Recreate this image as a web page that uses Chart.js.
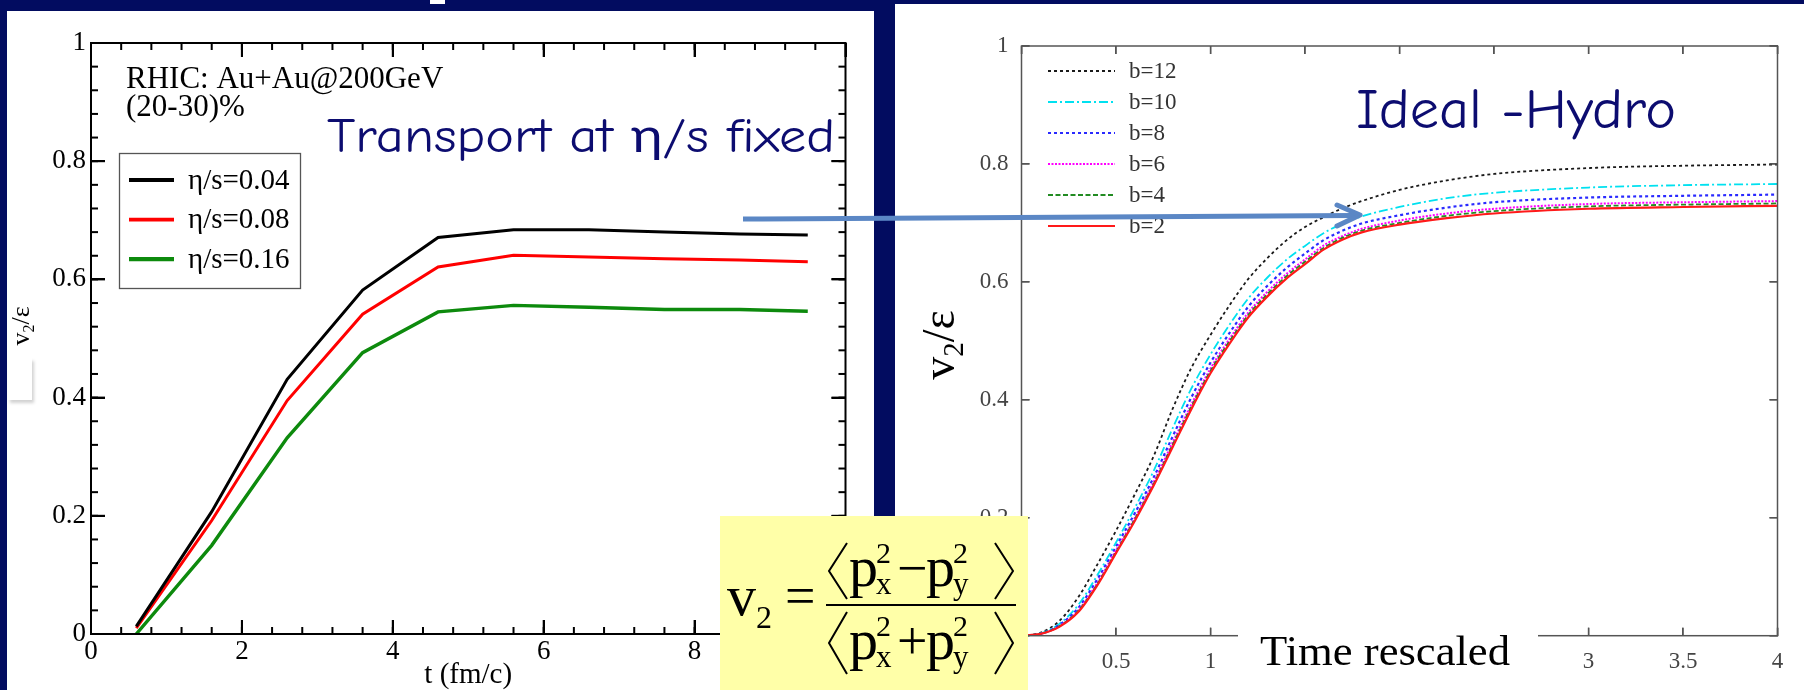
<!DOCTYPE html>
<html>
<head>
<meta charset="utf-8">
<script src="https://cdn.jsdelivr.net/npm/chart.js@4.4.0/dist/chart.umd.min.js"></script>
<style>
  html, body { margin: 0; padding: 0; background: #020c60; }
  body { width: 1804px; height: 690px; position: relative; overflow: hidden; }
  .panel { position: absolute; background: #fff; }
  #leftPanel { left: 7px; top: 11px; width: 867px; height: 679px; }
  #rightPanel { left: 895px; top: 4px; width: 909px; height: 686px; }
  #notch { position: absolute; left: 430px; top: 0; width: 15px; height: 4px; background: #fff; }
  #patch { position: absolute; left: 8px; top: 358px; width: 24px; height: 42px; background: #fff;
           box-shadow: 2px 3px 3px rgba(0,0,0,0.18); }
  canvas { position: absolute; top: 0; }
  #transport { left: 0; }
  #hydro { left: 895px; }
  #overlay { position: absolute; left: 0; top: 0; pointer-events: none; }
</style>
</head>
<body>
<div class="panel" id="leftPanel"></div>
<div class="panel" id="rightPanel"></div>
<div id="notch"></div>
<div id="patch"></div>
<canvas id="transport" width="875" height="690"></canvas>
<canvas id="hydro" width="909" height="690"></canvas>

<svg id="overlay" width="1804" height="690">
  <!-- formula box -->
  <rect x="720" y="516" width="308" height="174" fill="#ffffa8"/>
  <g font-family="'Liberation Serif', serif" fill="#000">
    <text x="727" y="615" font-size="58">v</text>
    <text x="756" y="628" font-size="32">2</text>
    <text x="785" y="614" font-size="54">=</text>
    <line x1="826" y1="605" x2="1016" y2="605" stroke="#000" stroke-width="2"/>
    <polyline points="847,543 829,571 847,599" fill="none" stroke="#000" stroke-width="2"/>
    <text x="849" y="586" font-size="58">p</text>
    <text x="876" y="563" font-size="30">2</text>
    <text x="876" y="594" font-size="31">x</text>
    <text x="897" y="586" font-size="54">−</text>
    <text x="926" y="586" font-size="58">p</text>
    <text x="953" y="563" font-size="30">2</text>
    <text x="953" y="594" font-size="31">y</text>
    <polyline points="995,543 1013,571 995,599" fill="none" stroke="#000" stroke-width="2"/>
    <polyline points="847,612 829,643 847,674" fill="none" stroke="#000" stroke-width="2"/>
    <text x="849" y="659" font-size="58">p</text>
    <text x="876" y="636" font-size="30">2</text>
    <text x="876" y="667" font-size="31">x</text>
    <text x="897" y="659" font-size="54">+</text>
    <text x="926" y="659" font-size="58">p</text>
    <text x="953" y="636" font-size="30">2</text>
    <text x="953" y="667" font-size="31">y</text>
    <polyline points="995,612 1013,643 995,674" fill="none" stroke="#000" stroke-width="2"/>
  </g>
  <!-- x title of the hydro plot sits on its own white box -->
  <rect x="1238" y="622" width="300" height="68" fill="#fff"/>
  <text x="1260" y="665" font-family="'Liberation Serif', serif" font-size="42"
        textLength="250" lengthAdjust="spacingAndGlyphs" fill="#000">Time rescaled</text>
  <!-- slide titles -->
  <g font-family="'Comic Sans MS', 'Comic Neue', Lato, sans-serif" fill="#0c0c70">
    <text x="327" y="152" font-size="48" textLength="508" lengthAdjust="spacingAndGlyphs">Transport at η/s fixed</text>
    <text x="1356" y="128" font-size="56" textLength="320" lengthAdjust="spacingAndGlyphs">Ideal -Hydro</text>
  </g>
  <!-- arrow from one plot to the other -->
  <line x1="743" y1="219" x2="1355" y2="215.5" stroke="#5b87c5" stroke-width="5"/>
  <polyline points="1337,205 1360,215 1337,226" fill="none" stroke="#5b87c5" stroke-width="5"
            stroke-linecap="round" stroke-linejoin="round"/>
</svg>

<script>
// ---- left plot: transport, v2/eps vs t (fm/c) ----
const tTransport = [0.6, 1.6, 2.6, 3.6, 4.6, 5.6, 6.6, 7.6, 8.6, 9.5];
const eta004 = [0.013, 0.207, 0.431, 0.582, 0.671, 0.684, 0.684, 0.680, 0.677, 0.675];
const eta008 = [0.010, 0.192, 0.395, 0.541, 0.621, 0.641, 0.638, 0.635, 0.633, 0.630];
const eta016 = [0.000, 0.150, 0.332, 0.476, 0.545, 0.556, 0.553, 0.549, 0.549, 0.546];
const etaLabels = ['η/s=0.04', 'η/s=0.08', 'η/s=0.16'];
const leftXTicks = [0, 2, 4, 6, 8, 10];
const leftYTicks = [0, 0.2, 0.4, 0.6, 0.8, 1];
const leftYLabels = ['0', '0.2', '0.4', '0.6', '0.8', '1'];

// ---- right plot: ideal hydro, v2/eps vs rescaled time ----
const tRescaled = [0, 0.1, 0.2, 0.3, 0.4, 0.5, 0.6, 0.7, 0.8, 0.9, 1.0, 1.1, 1.2, 1.3,
                   1.4, 1.5, 1.6, 1.7, 1.8, 2.0, 2.25, 2.5, 3.0, 3.5, 4.0];
const b12 = [0, 0.005, 0.025, 0.065, 0.12, 0.178, 0.24, 0.305, 0.385, 0.455, 0.51, 0.56, 0.605,
             0.64, 0.67, 0.693, 0.71, 0.725, 0.737, 0.756, 0.772, 0.783, 0.793, 0.797, 0.799];
const b10 = [0, 0.004, 0.02, 0.052, 0.102, 0.158, 0.217, 0.28, 0.352, 0.42, 0.477, 0.527, 0.572,
             0.607, 0.637, 0.661, 0.683, 0.699, 0.711, 0.727, 0.742, 0.751, 0.76, 0.764, 0.766];
const b8 = [0, 0.003, 0.018, 0.047, 0.095, 0.151, 0.208, 0.269, 0.338, 0.405, 0.463, 0.513, 0.558,
            0.593, 0.623, 0.648, 0.671, 0.687, 0.699, 0.713, 0.726, 0.735, 0.743, 0.746, 0.748];
const b6 = [0, 0.003, 0.016, 0.043, 0.089, 0.145, 0.2, 0.261, 0.328, 0.393, 0.453, 0.503, 0.548,
            0.583, 0.613, 0.638, 0.662, 0.678, 0.69, 0.704, 0.716, 0.724, 0.732, 0.735, 0.737];
const b4 = [0, 0.003, 0.016, 0.042, 0.087, 0.142, 0.198, 0.258, 0.324, 0.389, 0.449, 0.499, 0.544,
            0.579, 0.609, 0.634, 0.658, 0.675, 0.687, 0.7, 0.712, 0.72, 0.728, 0.731, 0.733];
const b2 = [0, 0.003, 0.015, 0.04, 0.085, 0.14, 0.195, 0.255, 0.32, 0.385, 0.445, 0.495, 0.54,
            0.575, 0.605, 0.63, 0.655, 0.672, 0.684, 0.697, 0.708, 0.716, 0.724, 0.727, 0.729];
const bLabels = ['b=12', 'b=10', 'b=8', 'b=6', 'b=4', 'b=2'];
const rightXTicks = [0, 0.5, 1, 1.5, 2, 2.5, 3, 3.5, 4];
const rightXLabels = ['0', '0.5', '1', '1.5', '2', '2.5', '3', '3.5', '4'];
const rightYTicks = [0, 0.2, 0.4, 0.6, 0.8, 1];
const rightYLabels = ['0', '0.2', '0.4', '0.6', '0.8', '1'];

const SERIF = '"Liberation Serif", "Times New Roman", serif';

function pairs(xs, ys) {
  return xs.map((x, i) => ({ x: x, y: ys[i] }));
}

// tick marks pointing into the plot, drawn by the axes themselves (negative tick length)
function inwardGrid(color, width, len) {
  return { display: true, drawOnChartArea: false, drawTicks: true, tickLength: -len,
           color: color, tickColor: color, lineWidth: width, tickWidth: width };
}

// extra axis on the opposite side that only carries the mirrored tick marks
function mirrorAxis(position, min, max, values, grid) {
  const horizontal = position === 'top';
  return {
    type: 'linear', position: position, min: min, max: max,
    grid: grid, border: { display: false },
    ticks: { display: false },
    afterBuildTicks: s => { s.ticks = values.map(v => ({ value: v })); },
    afterFit: s => { if (horizontal) s.height = 0; else s.width = 0; }
  };
}

// frame round the plot plus minor ticks
function drawFrame(chart, o) {
  const ctx = chart.ctx;
  const a = chart.chartArea;
  const sx = chart.scales.x;
  const sy = chart.scales.y;
  const xs = [], ys = [];
  sx.ticks.forEach(t => xs.push([t.value, o.major]));
  sy.ticks.forEach(t => ys.push([t.value, o.major]));
  if (o.xMinor) {
    for (let i = 1; i * o.xMinor < sx.max - sx.min - 1e-6; i++) xs.push([sx.min + i * o.xMinor, o.minor]);
  }
  if (o.yMinor) {
    for (let i = 1; i * o.yMinor < sy.max - sy.min - 1e-6; i++) ys.push([sy.min + i * o.yMinor, o.minor]);
  }
  const w = o.tickWidth;
  ctx.save();
  ctx.strokeStyle = o.color;
  ctx.fillStyle = o.color;
  ctx.lineWidth = o.frameWidth;
  ctx.strokeRect(a.left, a.top, a.right - a.left, a.bottom - a.top);
  xs.forEach(([v, len]) => {
    const px = sx.getPixelForValue(v);
    ctx.fillRect(px - w / 2, a.bottom - len, w, len);
    ctx.fillRect(px - w / 2, a.top, w, len);
  });
  ys.forEach(([v, len]) => {
    const py = sy.getPixelForValue(v);
    ctx.fillRect(a.left, py - w / 2, len, w);
    ctx.fillRect(a.right - len, py - w / 2, len, w);
  });
  ctx.restore();
}

// "v2/eps" written sideways, with a real subscript
function drawV2Eps(ctx, baseX, midY, size, color) {
  ctx.save();
  ctx.translate(baseX, midY);
  ctx.rotate(-Math.PI / 2);
  ctx.fillStyle = color;
  ctx.textBaseline = 'alphabetic';
  ctx.font = size + 'px ' + SERIF;
  const w1 = ctx.measureText('v').width;
  const w3 = ctx.measureText('/ε').width;
  ctx.font = Math.round(size * 0.62) + 'px ' + SERIF;
  const w2 = ctx.measureText('2').width;
  const x0 = -(w1 + w2 + w3) / 2;
  ctx.font = size + 'px ' + SERIF;
  ctx.fillText('v', x0, 0);
  ctx.font = Math.round(size * 0.62) + 'px ' + SERIF;
  ctx.fillText('2', x0 + w1, size * 0.2);
  ctx.font = size + 'px ' + SERIF;
  ctx.fillText('/ε', x0 + w1 + w2, 0);
  ctx.restore();
}

const transportDecor = {
  id: 'transportDecor',
  afterDraw(chart) {
    const ctx = chart.ctx;
    ctx.save();
    ctx.fillStyle = '#000';
    ctx.font = '31px ' + SERIF;
    ctx.textBaseline = 'alphabetic';
    ctx.fillText('RHIC: Au+Au@200GeV', 126, 88);
    ctx.fillText('(20-30)%', 126, 116);
    // legend box
    ctx.strokeStyle = '#555';
    ctx.lineWidth = 1.3;
    ctx.strokeRect(119.5, 153.5, 181, 135);
    chart.data.datasets.forEach((ds, i) => {
      const yy = 180 + i * 39.6;
      ctx.strokeStyle = ds.borderColor;
      ctx.lineWidth = ds.borderWidth + 0.8;
      ctx.beginPath();
      ctx.moveTo(129, yy);
      ctx.lineTo(174, yy);
      ctx.stroke();
      ctx.fillStyle = '#000';
      ctx.font = '29px ' + SERIF;
      ctx.textBaseline = 'middle';
      ctx.fillText(ds.label, 188, yy + 1);
    });
    ctx.restore();
    drawV2Eps(ctx, 29, 326, 26, '#000');
    drawFrame(chart, { color: '#000', tickWidth: 2, frameWidth: 2, major: 14, minor: 7, xMinor: 0.4, yMinor: 0.04 });
  }
};

const hydroDecor = {
  id: 'hydroDecor',
  afterDraw(chart) {
    const ctx = chart.ctx;
    ctx.save();
    chart.data.datasets.forEach((ds, i) => {
      const yy = 71 + i * 31;
      ctx.strokeStyle = ds.borderColor;
      ctx.lineWidth = ds.borderWidth;
      ctx.setLineDash(ds.borderDash);
      ctx.beginPath();
      ctx.moveTo(153, yy);
      ctx.lineTo(220, yy);
      ctx.stroke();
      ctx.setLineDash([]);
      ctx.fillStyle = '#333';
      ctx.font = '23px ' + SERIF;
      ctx.textBaseline = 'middle';
      ctx.fillText(ds.label, 234, yy + 1);
    });
    ctx.restore();
    drawV2Eps(ctx, 59, 345, 46, '#000');
    drawFrame(chart, { color: '#555', tickWidth: 1.4, frameWidth: 1.5, major: 8, minor: 0 });
  }
};

const leftGrid = inwardGrid('#000', 2, 14);
const rightGrid = inwardGrid('#555', 1.4, 8);

// left chart
new Chart(document.getElementById('transport'), {
  type: 'line',
  data: {
    datasets: [
      { label: etaLabels[0], data: pairs(tTransport, eta004), borderColor: '#000000', borderWidth: 3 },
      { label: etaLabels[1], data: pairs(tTransport, eta008), borderColor: '#ff0000', borderWidth: 3 },
      { label: etaLabels[2], data: pairs(tTransport, eta016), borderColor: '#0d8a0d', borderWidth: 3.4 }
    ]
  },
  options: {
    responsive: false,
    animation: false,
    layout: { padding: { left: 0, top: 43, right: 16, bottom: 0 } },
    elements: { point: { radius: 0 }, line: { tension: 0, fill: false } },
    plugins: { legend: { display: false }, tooltip: { enabled: false } },
    scales: {
      x: {
        type: 'linear', min: 0, max: 10,
        grid: leftGrid, border: { display: false },
        afterBuildTicks: s => { s.ticks = leftXTicks.map(v => ({ value: v })); },
        afterFit: s => { s.height = 56; },
        ticks: { font: { family: SERIF, size: 27 }, color: '#000', padding: 16, maxRotation: 0 },
        title: { display: true, text: 't (fm/c)', font: { family: SERIF, size: 29, lineHeight: 1 },
                 color: '#000', padding: { top: 0, bottom: 0 } }
      },
      y: {
        min: 0, max: 1,
        grid: leftGrid, border: { display: false },
        afterBuildTicks: s => { s.ticks = leftYTicks.map(v => ({ value: v })); },
        afterFit: s => { s.width = 91; },
        ticks: { font: { family: SERIF, size: 27 }, color: '#000', padding: 19,
                 callback: (v, i) => leftYLabels[i] }
      },
      xTop: mirrorAxis('top', 0, 10, leftXTicks, leftGrid),
      yRight: mirrorAxis('right', 0, 1, leftYTicks, leftGrid)
    }
  },
  plugins: [transportDecor]
});

// right chart
new Chart(document.getElementById('hydro'), {
  type: 'line',
  data: {
    datasets: [
      { label: bLabels[0], data: pairs(tRescaled, b12), borderColor: '#1a1a1a', borderWidth: 1.8, borderDash: [3, 3], order: 5 },
      { label: bLabels[1], data: pairs(tRescaled, b10), borderColor: '#00e1f0', borderWidth: 1.8, borderDash: [9, 3, 2, 3], order: 4 },
      { label: bLabels[2], data: pairs(tRescaled, b8), borderColor: '#2a2aff', borderWidth: 2.2, borderDash: [3, 3], order: 3 },
      { label: bLabels[3], data: pairs(tRescaled, b6), borderColor: '#ff00ff', borderWidth: 2, borderDash: [2, 1.5], order: 2 },
      { label: bLabels[4], data: pairs(tRescaled, b4), borderColor: '#228b22', borderWidth: 1.8, borderDash: [5, 2.5], order: 1 },
      { label: bLabels[5], data: pairs(tRescaled, b2), borderColor: '#ff1a1a', borderWidth: 2.2, borderDash: [], order: 0 }
    ]
  },
  options: {
    responsive: false,
    animation: false,
    layout: { padding: { left: 0, top: 46, right: 26.5, bottom: 0 } },
    elements: { point: { radius: 0 }, line: { cubicInterpolationMode: 'monotone', fill: false } },
    plugins: { legend: { display: false }, tooltip: { enabled: false } },
    scales: {
      x: {
        type: 'linear', min: 0, max: 4,
        grid: rightGrid, border: { display: false },
        afterBuildTicks: s => { s.ticks = rightXTicks.map(v => ({ value: v })); },
        afterFit: s => { s.height = 54.3; },
        ticks: { font: { family: SERIF, size: 23 }, color: '#444', padding: 20, maxRotation: 0,
                 callback: (v, i) => rightXLabels[i] }
      },
      y: {
        min: 0, max: 1,
        grid: rightGrid, border: { display: false },
        afterBuildTicks: s => { s.ticks = rightYTicks.map(v => ({ value: v })); },
        afterFit: s => { s.width = 126.5; },
        ticks: { font: { family: SERIF, size: 23 }, color: '#444', padding: 21,
                 callback: (v, i) => rightYLabels[i] }
      },
      xTop: mirrorAxis('top', 0, 4, rightXTicks, rightGrid),
      yRight: mirrorAxis('right', 0, 1, rightYTicks, rightGrid)
    }
  },
  plugins: [hydroDecor]
});
</script>
</body>
</html>
